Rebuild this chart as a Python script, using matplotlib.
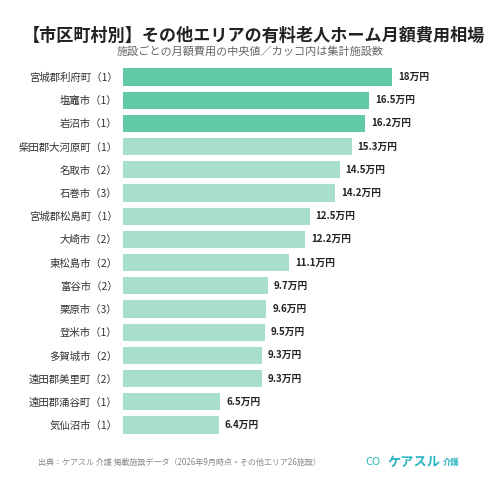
import matplotlib
matplotlib.use("Agg")
import matplotlib.pyplot as plt

plt.rcParams['font.family'] = ['Noto Sans CJK JP', 'DejaVu Sans']

labels = ["宮城郡利府町（1）","塩竈市（1）","岩沼市（1）","柴田郡大河原町（1）","名取市（2）","石巻市（3）",
          "宮城郡松島町（1）","大崎市（2）","東松島市（2）","富谷市（2）","栗原市（3）","登米市（1）",
          "多賀城市（2）","遠田郡美里町（2）","遠田郡涌谷町（1）","気仙沼市（1）"]
values = [18, 16.5, 16.2, 15.3, 14.5, 14.2, 12.5, 12.2, 11.1, 9.7, 9.6, 9.5, 9.3, 9.3, 6.5, 6.4]
value_labels = ["18万円","16.5万円","16.2万円","15.3万円","14.5万円","14.2万円","12.5万円","12.2万円",
                "11.1万円","9.7万円","9.6万円","9.5万円","9.3万円","9.3万円","6.5万円","6.4万円"]

fig = plt.figure(figsize=(5, 4.84), dpi=100)
ax = fig.add_axes([0.246, 0.098, 0.714, 0.767])
colors = ["#62c9a7" if i < 3 else "#a8dfca" for i in range(len(values))]
y = list(range(len(values)))
ax.barh(y, values, height=0.74, color=colors)
ax.set_ylim(len(values) - 0.5, -0.5)
ax.set_xlim(0, 23.9)
ax.set_yticks(y)
ax.set_yticklabels(labels, fontsize=7.5, color="#333333")
ax.tick_params(axis='y', length=0, pad=4)
ax.set_xticks([])
for s in ax.spines.values():
    s.set_visible(False)
for yi, v, t in zip(y, values, value_labels):
    ax.text(v + 0.4, yi, t, va='center', ha='left', fontsize=7, fontweight='bold', color="#222222")

fig.text(0.508, 0.925, "【市区町村別】その他エリアの有料老人ホーム月額費用相場", ha='center', va='center',
         fontsize=12.3, fontweight='bold', color="#222222")
fig.text(0.5, 0.893, "施設ごとの月額費用の中央値／カッコ内は集計施設数", ha='center', va='center',
         fontsize=8, color="#666666")
fig.text(0.075, 0.044, "出典：ケアスル 介護 掲載施設データ（2026年9月時点・その他エリア26施設）", ha='left', va='center',
         fontsize=5.8, color="#888888")
fig.text(0.73, 0.046, "CO", ha='left', va='center', fontsize=8, color="#2bb5c0")
fig.text(0.775, 0.046, "ケアスル", ha='left', va='center', fontsize=9.5, fontweight='bold', color="#2bb5c0")
fig.text(0.885, 0.044, "介護", ha='left', va='center', fontsize=6, fontweight='bold', color="#2bb5c0")
fig.savefig("out.png", dpi=100, facecolor="white")
